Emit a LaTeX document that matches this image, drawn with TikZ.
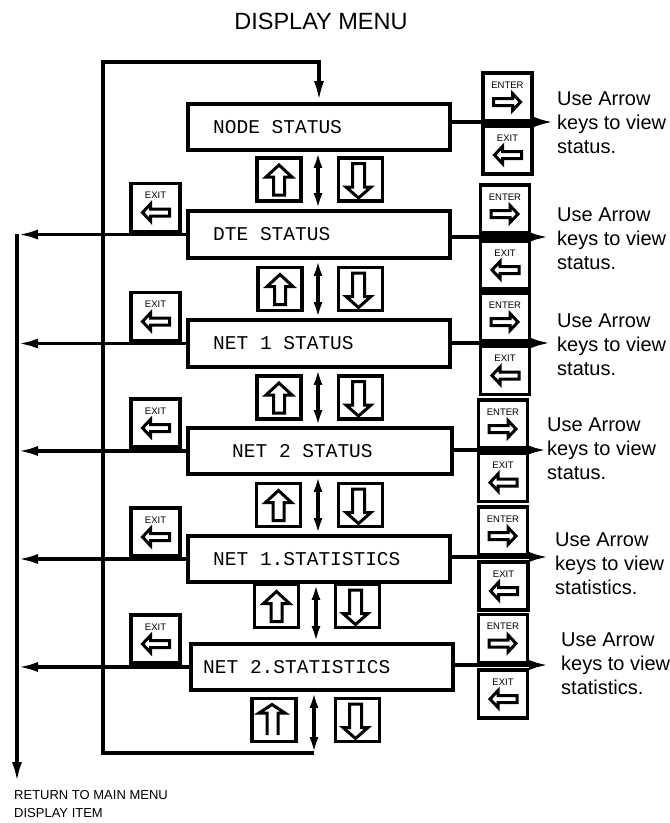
\documentclass[tikz,border=0pt]{standalone}
\usepackage{fontspec}
\setmainfont{Liberation Sans}
\newfontfamily\monofam{Liberation Mono}
\usetikzlibrary{arrows.meta}
\begin{document}
\begin{tikzpicture}[x=1pt,y=-1pt,
  line/.style={line width=3.8pt},
  tip/.style={-{Latex[length=21pt,width=10pt]}},
  dtip/.style={{Latex[length=16pt,width=9pt]}-{Latex[length=16pt,width=9pt]}},
  menubox/.style={draw, line width=3.8pt, minimum width=262pt, minimum height=46pt, inner sep=0pt},
  menutext/.style={font=\monofam\fontsize{19.5}{20}\selectfont, anchor=west, inner sep=0pt},
  keybox/.style={draw, line width=3.8pt, minimum width=49pt, minimum height=48pt, inner sep=0pt},
  udbox/.style={draw, line width=3.4pt, minimum width=44pt, minimum height=43pt, inner sep=0pt},
  keylabel/.style={font=\fontsize{9.5}{10}\selectfont, inner sep=0pt},
  glyph/.style={line width=3pt, line join=miter},
  note/.style={font=\fontsize{20}{24}\selectfont, align=left, anchor=west, inner sep=0pt},
  enterkey/.pic={
    \node[keybox] (-b) at (0,0) {};
    \node[keylabel] (-l) at (0,-12) {ENTER};
    \draw[glyph] (-14,1.5) -- (5,1.5) -- (5,-3.5) -- (13,5) -- (5,13.5) -- (5,8.5) -- (-14,8.5) -- cycle;
  },
  exitkey/.pic={
    \node[keybox] (-b) at (0,0) {};
    \node[keylabel] (-l) at (0,-12) {EXIT};
    \draw[glyph] (14,1.5) -- (-5,1.5) -- (-5,-3.5) -- (-13,5) -- (-5,13.5) -- (-5,8.5) -- (14,8.5) -- cycle;
  },
  upkey/.pic={
    \node[udbox] (-b) at (0,0) {};
    \draw[glyph] (-5.5,15.5) -- (-5.5,-2.5) -- (-13,-2.5) -- (0,-14.5) -- (13,-2.5) -- (5.5,-2.5) -- (5.5,15.5) -- cycle;
  },
  downkey/.pic={
    \node[udbox] (-b) at (0,0) {};
    \draw[glyph] (-8,-16) -- (4,-16) -- (4,7.5) -- (10.5,7.5) -- (-2,18.5) -- (-14.5,7.5) -- (-8,7.5) -- cycle;
  },
  upkeyb/.pic={
    \node[udbox] (-b) at (0,0) {};
    \draw[glyph] (-7,15) -- (-7,-7) -- (-15,-7) -- (-2,-15.5) -- (11,-7) -- (4,-7) -- (4,15);
  },
]
\useasboundingbox (0,0) rectangle (670,823);

\node[font=\fontsize{23.5}{28}\selectfont] (title) at (321,21) {DISPLAY MENU};

% menu boxes
\node[menubox] (n1) at (319,127) {};
\node[menubox, minimum height=47pt] (n2) at (319,234.5) {};
\node[menubox, minimum height=47pt] (n3) at (319,343.5) {};
\node[menubox, minimum width=264pt] (n4) at (320,451) {};
\node[menubox] (n5) at (319,559) {};
\node[menubox] (n6) at (322,667) {};

\node[menutext] (t1) at (213,127) {NODE STATUS};
\node[menutext] (t2) at (213,234.5) {DTE STATUS};
\node[menutext] (t3) at (213,343.5) {NET 1 STATUS};
\node[menutext] (t4) at (232,451) {NET 2 STATUS};
\node[menutext] (t5) at (213,559) {NET 1.STATISTICS};
\node[menutext] (t6) at (203,667) {NET 2.STATISTICS};

% loop back to top
\coordinate (tl) at (103,62);
\coordinate (bl) at (103,753);
\coordinate (bend) at (314,753);
\draw[line, tip] (bend) -- (bl) -- (tl) -- (tl -| n1.north) -- (n1.north);

% up/down arrows between boxes
\draw[line, dtip] ([xshift=-1pt]n1.south) -- ([xshift=-1pt]n2.north);
\draw[line, dtip] ([xshift=-1pt]n2.south) -- ([xshift=-1pt]n3.north);
\draw[line, dtip] ([xshift=-1pt]n3.south) -- ([xshift=-2pt]n4.north);
\draw[line, dtip] ([xshift=-2pt]n4.south) -- ([xshift=-1pt]n5.north);
\draw[line, dtip] ([xshift=-3pt]n5.south) -- ([xshift=-3pt]n5.south |- n6.north);
\draw[line, dtip] ([xshift=-8pt]n6.south) -- (bend);

% return line on the left
\coordinate (ret) at (17,234);
\coordinate (retend) at (17,783);
\draw[line, tip] (ret) -- (retend);
\foreach \n in {n2,n3,n4,n5,n6} \draw[line, tip] (\n.west) -- (\n.west -| ret);

% right arrows
\coordinate (a1) at (555,122);
\coordinate (a2) at (550,237);
\coordinate (a3) at (552,343);
\coordinate (a4) at (548,450);
\coordinate (a5) at (550,557);
\coordinate (a6) at (550,665);
\foreach \i in {1,...,6} \draw[line, tip] (n\i.east |- a\i) -- (a\i);

% up / down keys
\pic (u1) at (279,179.5) {upkey};   \pic (d1) at (360.5,179.5) {downkey};
\pic (u2) at (280,289) {upkey};     \pic (d2) at (360.5,289) {downkey};
\pic (u3) at (279,397.5) {upkey};   \pic (d3) at (360.5,397.5) {downkey};
\pic (u4) at (278.5,505) {upkey};   \pic (d4) at (360.5,505) {downkey};
\pic (u5) at (276.5,606) {upkey};   \pic (d5) at (357.5,606) {downkey};
\pic (u6) at (274,720) {upkeyb};    \pic (d6) at (357.5,720) {downkey};

% left exit keys
\pic (x2) at (155.5,207.5) {exitkey};
\pic (x3) at (155.5,316.5) {exitkey};
\pic (x4) at (155.5,423) {exitkey};
\pic (x5) at (155.5,532) {exitkey};
\pic (x6) at (155.5,639) {exitkey};

% right enter / exit keys
\pic (e1) at (507.5,97) {enterkey};  \pic (r1) at (507.5,150) {exitkey};
\pic (e2) at (505,209) {enterkey};   \pic (r2) at (505,265) {exitkey};
\pic (e3) at (505,317) {enterkey};   \pic (r3) at (505,370.5) {exitkey};
\pic (e4) at (503,424) {enterkey};   \pic (r4) at (503,477.5) {exitkey};
\pic (e5) at (503,531) {enterkey};   \pic (r5) at (503.5,586) {exitkey};
\pic (e6) at (503,638.5) {enterkey}; \pic (r6) at (503,694) {exitkey};

% notes
\node[note] (m1) at (557,123) {Use Arrow\\keys to view\\status.};
\node[note] (m2) at (557,239) {Use Arrow\\keys to view\\status.};
\node[note] (m3) at (557,345) {Use Arrow\\keys to view\\status.};
\node[note] (m4) at (547,449) {Use Arrow\\keys to view\\status.};
\node[note] (m5) at (555,564) {Use Arrow\\keys to view\\statistics.};
\node[note] (m6) at (561,664) {Use Arrow\\keys to view\\statistics.};

\node[font=\fontsize{13}{18}\selectfont, align=left, anchor=north west, inner sep=0pt] (rt) at (14,790) {RETURN TO MAIN MENU\\DISPLAY ITEM};
\end{tikzpicture}
\end{document}
